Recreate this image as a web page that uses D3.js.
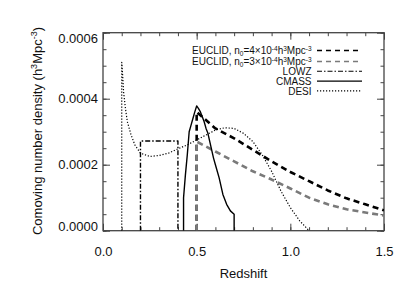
<!DOCTYPE html>
<html>
<head>
<meta charset="utf-8">
<script src="https://cdn.jsdelivr.net/npm/d3@7"></script>
<style>
html,body{margin:0;padding:0;background:#fff;}
svg{display:block;font-family:"Liberation Sans",Arial,Helvetica,sans-serif;}
</style>
</head>
<body>
<svg id="chart" width="415" height="297"></svg>
<script>
// ---------- data ----------
const xTickValues = [0.0, 0.5, 1.0, 1.5];
const xTickLabels = ["0.0", "0.5", "1.0", "1.5"];
const yTickValues = [0, 0.0002, 0.0004, 0.0006];
const yTickLabels = ["0.0000", "0.0002", "0.0004", "0.0006"];
const xTitle = "Redshift";

const euclid4Z = [0.5, 0.5, 0.6, 0.7, 0.8, 0.9, 1.0, 1.1, 1.2, 1.3, 1.4, 1.5];
const euclid4N = [0, 0.00036, 0.00031, 0.00028, 0.000245, 0.00021, 0.000178, 0.00015, 0.000122, 0.000098, 0.00008, 0.000062];

const euclid3Z = [0.5, 0.5, 0.6, 0.7, 0.8, 0.9, 1.0, 1.1, 1.2, 1.3, 1.4, 1.5];
const euclid3N = [0, 0.00027, 0.00024, 0.00021, 0.00018, 0.000155, 0.000128, 0.0001, 0.00008, 0.000065, 0.000055, 0.000046];

const lowzZ = [0.2, 0.2, 0.4, 0.4];
const lowzN = [0, 0.000272, 0.000272, 0];

const cmassZ = [0.43, 0.43, 0.44, 0.45, 0.46, 0.47, 0.48, 0.49, 0.5, 0.51, 0.52, 0.53, 0.54, 0.55, 0.56, 0.57, 0.58, 0.59, 0.6, 0.62, 0.64, 0.66, 0.68, 0.7, 0.7];
const cmassN = [0, 0.0001, 0.00017, 0.00023, 0.0003, 0.00032, 0.00034, 0.00036, 0.000378, 0.00037, 0.00036, 0.000345, 0.00033, 0.00031, 0.000295, 0.00027, 0.000245, 0.00022, 0.0002, 0.00016, 0.00011, 0.00008, 0.00006, 0.00005, 0];

const desiZ = [0.1, 0.1, 0.105, 0.11, 0.12, 0.13, 0.15, 0.17, 0.2, 0.25, 0.3, 0.35, 0.4, 0.45, 0.5, 0.55, 0.6, 0.65, 0.7, 0.75, 0.8, 0.85, 0.9, 0.95, 1.0, 1.05, 1.1];
const desiN = [0, 0.00051, 0.00047, 0.00042, 0.00037, 0.00033, 0.00029, 0.00026, 0.000235, 0.000225, 0.000228, 0.000235, 0.000248, 0.00026, 0.000275, 0.00029, 0.000305, 0.000312, 0.00031, 0.000295, 0.00027, 0.00023, 0.00018, 0.00012, 0.00007, 0.00003, 0];

const legendNames = ["LOWZ", "CMASS", "DESI"];

// ---------- layout ----------
const svg = d3.select("#chart");
const L = 103, R = 384, T = 32.7, B = 230.7;
const x = d3.scaleLinear().domain([0, 1.5]).range([L, R]);
const y = d3.scaleLinear().domain([0, 0.0006]).range([B, T]);
const axisColor = "#444";

const xMinor = d3.range(0, 1.5001, 0.1).map(v => +v.toFixed(2));
const yMinor = d3.range(0, 0.00060001, 0.00005).map(v => +v.toFixed(6));

function styleAxis(g) {
  g.select(".domain").remove();
  g.selectAll("line").attr("stroke", axisColor).attr("stroke-width", 1);
  g.selectAll("text").attr("fill", "#111").attr("font-size", 13)
    .attr("font-family", '"Liberation Sans",Arial,Helvetica,sans-serif');
}

// minor ticks on all four sides
svg.append("g").attr("transform", `translate(0,${B})`)
  .call(d3.axisBottom(x).tickValues(xMinor).tickSize(-3.5).tickFormat("")).call(styleAxis);
svg.append("g").attr("transform", `translate(0,${T})`)
  .call(d3.axisTop(x).tickValues(xMinor).tickSize(-3.5).tickFormat("")).call(styleAxis);
svg.append("g").attr("transform", `translate(${L},0)`)
  .call(d3.axisLeft(y).tickValues(yMinor).tickSize(-3.5).tickFormat("")).call(styleAxis);
svg.append("g").attr("transform", `translate(${R},0)`)
  .call(d3.axisRight(y).tickValues(yMinor).tickSize(-3.5).tickFormat("")).call(styleAxis);

// major ticks
svg.append("g").attr("transform", `translate(0,${B})`)
  .call(d3.axisBottom(x).tickValues(xTickValues).tickSize(-7).tickPadding(16)
    .tickFormat((d, i) => xTickLabels[i])).call(styleAxis);
svg.append("g").attr("transform", `translate(0,${T})`)
  .call(d3.axisTop(x).tickValues(xTickValues).tickSize(-7).tickFormat("")).call(styleAxis);
const gy = svg.append("g").attr("transform", `translate(${L},0)`)
  .call(d3.axisLeft(y).tickValues(yTickValues).tickSize(-7).tickPadding(5)
    .tickFormat((d, i) => yTickLabels[i])).call(styleAxis);
svg.append("g").attr("transform", `translate(${R},0)`)
  .call(d3.axisRight(y).tickValues(yTickValues).tickSize(-7).tickFormat("")).call(styleAxis);

// clamp extreme y labels inside the axis range (IDL style)
gy.selectAll(".tick text").attr("dy", d => d === 0 ? "-0.0em" : (d === 0.0006 ? "0.72em" : "0.32em"));

// frame
svg.append("rect").attr("x", L).attr("y", T).attr("width", R - L).attr("height", B - T)
  .attr("fill", "none").attr("stroke", axisColor).attr("stroke-width", 1.3);

// axis titles
svg.append("text").attr("x", (L + R) / 2).attr("y", 278).attr("text-anchor", "middle")
  .attr("font-size", 13).attr("fill", "#111").text(xTitle);

const yt = svg.append("text").attr("transform", "translate(41.5,131) rotate(-90)")
  .attr("text-anchor", "middle").attr("font-size", 13).attr("fill", "#111");
yt.append("tspan").text("Comoving number density (h");
yt.append("tspan").attr("font-size", 9).attr("dy", -5).text("3");
yt.append("tspan").attr("dy", 5).text("Mpc");
yt.append("tspan").attr("font-size", 9).attr("dy", -5).text("-3");
yt.append("tspan").attr("dy", 5).text(")");

// ---------- series ----------
const line = d3.line().x(d => x(d[0])).y(d => y(d[1]));
const zip = (a, b) => a.map((v, i) => [v, b[i]]);

const series = [
  {z: euclid4Z, n: euclid4N, color: "#000", width: 2.6, dash: "6,4"},
  {z: euclid3Z, n: euclid3N, color: "#7a7a7a", width: 2.6, dash: "6,4"},
  {z: lowzZ, n: lowzN, color: "#000", width: 1.4, dash: "5,2,1.5,2"},
  {z: cmassZ, n: cmassN, color: "#000", width: 1.4, dash: null},
  {z: desiZ, n: desiN, color: "#000", width: 1.2, dash: "1.2,1.8"}
];

const plot = svg.append("g");
plot.append("clipPath").attr("id", "clip").append("rect")
  .attr("x", L).attr("y", T).attr("width", R - L).attr("height", B - T);
series.forEach(s => {
  plot.append("path").attr("d", line(zip(s.z, s.n)))
    .attr("fill", "none").attr("stroke", s.color).attr("stroke-width", s.width)
    .attr("stroke-dasharray", s.dash).attr("stroke-linejoin", "round")
    .attr("clip-path", "url(#clip)");
});

// ---------- legend ----------
const legRows = [50.5, 61.5, 71.3, 81.1, 90.9];
const textRight = 311.5, lineX0 = 317, lineX1 = 362;
const lg = svg.append("g").attr("font-size", 10).attr("fill", "#111");

function euclidLabel(yc, num) {
  const t = lg.append("text").attr("x", textRight).attr("y", yc + 3.6).attr("text-anchor", "end");
  t.append("tspan").text("EUCLID, n");
  t.append("tspan").attr("font-size", 6.5).attr("dy", 2).text("0");
  t.append("tspan").attr("dy", -2).text("=" + num + "\u00d710");
  t.append("tspan").attr("font-size", 6.5).attr("dy", -3.5).text("-4");
  t.append("tspan").attr("dy", 3.5).text("h");
  t.append("tspan").attr("font-size", 6.5).attr("dy", -3.5).text("3");
  t.append("tspan").attr("dy", 3.5).text("Mpc");
  t.append("tspan").attr("font-size", 6.5).attr("dy", -3.5).text("-3");
}
euclidLabel(legRows[0], "4");
euclidLabel(legRows[1], "3");
legendNames.forEach((name, i) => {
  lg.append("text").attr("x", textRight).attr("y", legRows[i + 2] + 3.6)
    .attr("text-anchor", "end").text(name);
});
series.forEach((s, i) => {
  svg.append("line").attr("x1", lineX0).attr("x2", lineX1)
    .attr("y1", legRows[i]).attr("y2", legRows[i])
    .attr("stroke", s.color).attr("stroke-width", i < 2 ? 1.3 : 1.1)
    .attr("stroke-dasharray", i < 2 ? "5,4" : s.dash);
});
</script>
</body>
</html>
